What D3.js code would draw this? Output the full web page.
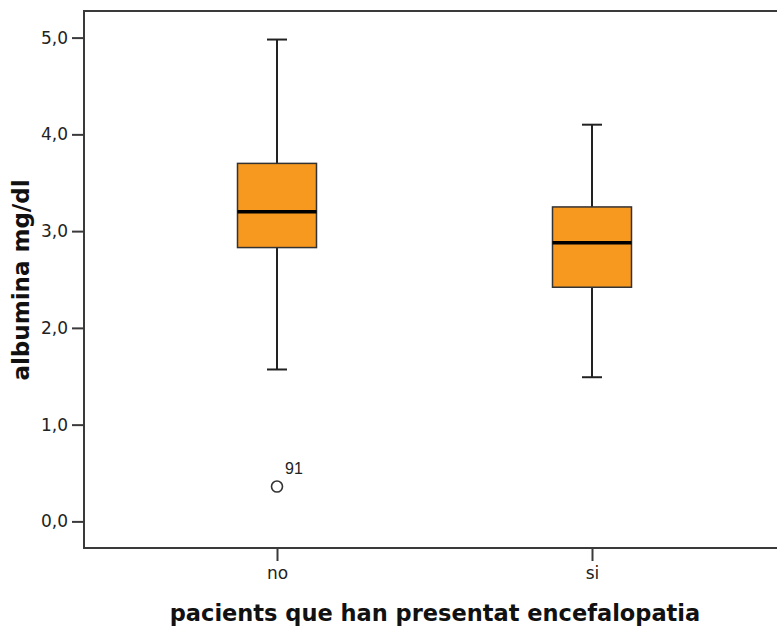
<!DOCTYPE html>
<html>
<head>
<meta charset="utf-8">
<script src="https://cdn.jsdelivr.net/npm/d3@7"></script>
<style>
  body { margin: 0; background: #fff; }
  svg { display: block; }
</style>
</head>
<body>
<div id="chart"></div>
<script>
const groups = ['no', 'si']
const whiskerLow = [1.57, 1.49]
const q1 = [2.83, 2.42]
const median = [3.2, 2.88]
const q3 = [3.7, 3.25]
const whiskerHigh = [4.98, 4.1]

const outlierGroups = ['no']
const outlierValues = [0.36]
const outlierLabels = ['91']

const yTicks = [0, 1, 2, 3, 4, 5]

const xAxisLabel = 'pacients que han presentat encefalopatia'
const yAxisLabel = 'albumina mg/dl'

const width = 777
const height = 628
const frame = { left: 84, top: 11, right: 785, bottom: 548 }

const boxWidth = 79
const capWidth = 20
const boxFill = '#f7981f'
const axisColor = '#3a3a3a'

const svg = d3
  .select('#chart')
  .append('svg')
  .attr('width', width)
  .attr('height', height)

const xScale = d3
  .scalePoint()
  .domain(groups)
  .range([frame.left, frame.right])
  .padding(0.6127)

const yScale = d3
  .scaleLinear()
  .domain([-0.275, 5.275])
  .range([frame.bottom, frame.top])

const fmt = d => d3.format('.1f')(d).replace('.', ',')

// frame
svg
  .append('rect')
  .attr('x', frame.left)
  .attr('y', frame.top)
  .attr('width', frame.right - frame.left)
  .attr('height', frame.bottom - frame.top)
  .attr('fill', 'none')
  .attr('stroke', axisColor)
  .attr('stroke-width', 2)

// y axis
svg
  .append('g')
  .attr('class', 'y-axis')
  .attr('transform', `translate(${frame.left - 1}, 0)`)
  .call(d3.axisLeft(yScale).tickValues(yTicks).tickFormat(fmt).tickSize(11).tickPadding(4))
  .call(g => {
    g.select('.domain').remove()
    g.selectAll('.tick line').attr('stroke', axisColor).attr('stroke-width', 2)
    g.selectAll('.tick text')
      .attr('fill', '#222')
      .style('font-family', 'DejaVu Sans, sans-serif')
      .style('font-size', '17px')
  })

// x axis
svg
  .append('g')
  .attr('class', 'x-axis')
  .attr('transform', `translate(0, ${frame.bottom + 1})`)
  .call(d3.axisBottom(xScale).tickSize(12).tickPadding(6))
  .call(g => {
    g.select('.domain').remove()
    g.selectAll('.tick line').attr('stroke', axisColor).attr('stroke-width', 2)
    g.selectAll('.tick text')
      .attr('fill', '#222')
      .style('font-family', 'DejaVu Sans, sans-serif')
      .style('font-size', '17px')
  })

// boxes
const boxes = svg
  .selectAll('g.box')
  .data(groups)
  .join('g')
  .attr('class', 'box')

boxes
  .append('line')
  .attr('x1', d => xScale(d))
  .attr('x2', d => xScale(d))
  .attr('y1', (d, i) => yScale(whiskerLow[i]))
  .attr('y2', (d, i) => yScale(whiskerHigh[i]))
  .attr('stroke', '#222')
  .attr('stroke-width', 2)

boxes
  .selectAll('line.cap')
  .data((d, i) => [
    { g: d, v: whiskerLow[i] },
    { g: d, v: whiskerHigh[i] },
  ])
  .join('line')
  .attr('class', 'cap')
  .attr('x1', c => xScale(c.g) - capWidth / 2)
  .attr('x2', c => xScale(c.g) + capWidth / 2)
  .attr('y1', c => yScale(c.v))
  .attr('y2', c => yScale(c.v))
  .attr('stroke', '#222')
  .attr('stroke-width', 2)

boxes
  .append('rect')
  .attr('x', d => xScale(d) - boxWidth / 2)
  .attr('y', (d, i) => yScale(q3[i]))
  .attr('width', boxWidth)
  .attr('height', (d, i) => yScale(q1[i]) - yScale(q3[i]))
  .attr('fill', boxFill)
  .attr('stroke', '#333')
  .attr('stroke-width', 1.5)

boxes
  .append('line')
  .attr('x1', d => xScale(d) - boxWidth / 2)
  .attr('x2', d => xScale(d) + boxWidth / 2)
  .attr('y1', (d, i) => yScale(median[i]))
  .attr('y2', (d, i) => yScale(median[i]))
  .attr('stroke', '#000')
  .attr('stroke-width', 3.5)

// outliers
const outliers = outlierGroups.map((g, i) => ({
  g,
  v: outlierValues[i],
  label: outlierLabels[i],
}))

svg
  .selectAll('circle.outlier')
  .data(outliers)
  .join('circle')
  .attr('class', 'outlier')
  .attr('cx', d => xScale(d.g))
  .attr('cy', d => yScale(d.v))
  .attr('r', 5.5)
  .attr('fill', 'none')
  .attr('stroke', '#333')
  .attr('stroke-width', 1.6)

svg
  .selectAll('text.outlier-label')
  .data(outliers)
  .join('text')
  .attr('class', 'outlier-label')
  .attr('x', d => xScale(d.g) + 8)
  .attr('y', d => yScale(d.v) - 13)
  .text(d => d.label)
  .attr('fill', '#222')
  .style('font-family', 'Liberation Sans, Arial, sans-serif')
  .style('font-size', '16px')

// axis titles
svg
  .append('text')
  .attr('x', 435)
  .attr('y', 621)
  .attr('text-anchor', 'middle')
  .text(xAxisLabel)
  .attr('fill', '#111')
  .style('font-family', 'DejaVu Sans, sans-serif')
  .style('font-weight', 'bold')
  .style('font-size', '22.5px')

svg
  .append('text')
  .attr('transform', 'translate(29, 280) rotate(-90)')
  .attr('text-anchor', 'middle')
  .text(yAxisLabel)
  .attr('fill', '#111')
  .style('font-family', 'DejaVu Sans, sans-serif')
  .style('font-weight', 'bold')
  .style('font-size', '23px')
</script>
</body>
</html>
